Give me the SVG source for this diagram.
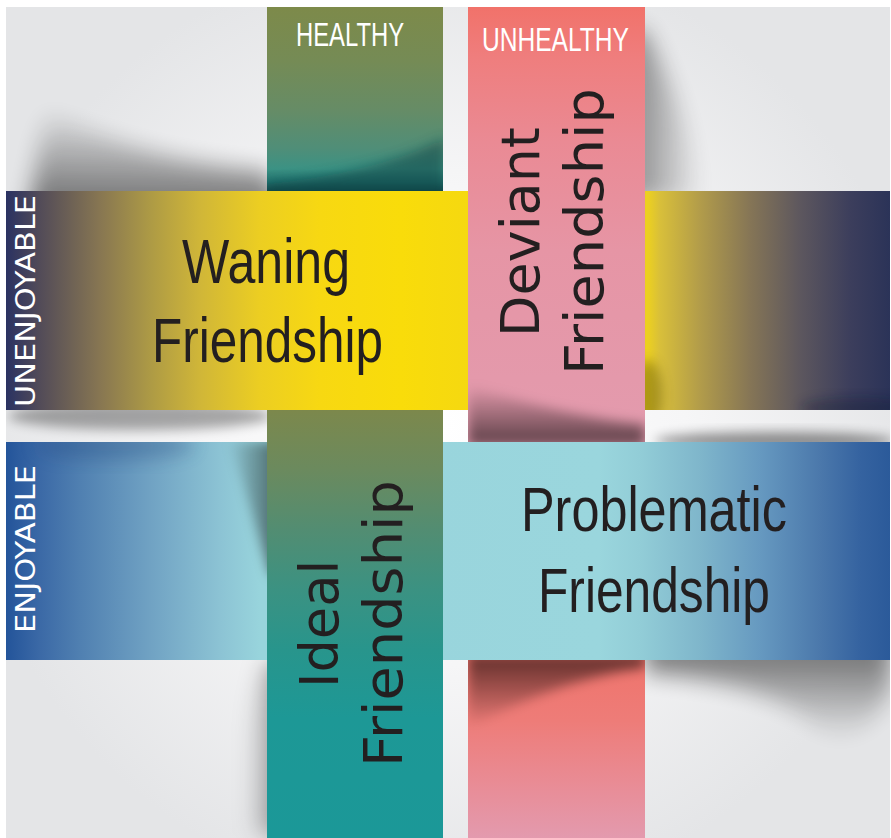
<svg xmlns="http://www.w3.org/2000/svg" width="891" height="838" viewBox="0 0 891 838">
<style>
.lbl{font-family:"Liberation Sans Narrow","Liberation Sans",Arial,sans-serif;fill:#231f20;font-size:63px;}
.vlbl{font-family:"DejaVu Sans","Open Sans",sans-serif;fill:#231f20;font-size:53px;}
.axis{font-family:"Liberation Sans Narrow","Liberation Sans",Arial,sans-serif;fill:#ffffff;font-size:34px;}
.vaxis{font-family:"DejaVu Sans","Open Sans",sans-serif;fill:#ffffff;font-size:27px;}
.sh{filter:url(#blur6);}
.shb{filter:url(#blur11);}
</style>
<defs>
 <filter id="blur6" x="-50%" y="-50%" width="200%" height="200%"><feGaussianBlur stdDeviation="6"/></filter>
 <filter id="blur9" x="-50%" y="-50%" width="200%" height="200%"><feGaussianBlur stdDeviation="9"/></filter>
 <filter id="blur11" x="-50%" y="-50%" width="200%" height="200%"><feGaussianBlur stdDeviation="11"/></filter>
 <radialGradient id="bg" gradientUnits="userSpaceOnUse" cx="445" cy="425" r="480">
  <stop offset="0" stop-color="#ffffff"/>
  <stop offset="0.5" stop-color="#f6f6f7"/>
  <stop offset="1" stop-color="#e4e5e7"/>
 </radialGradient>
 <linearGradient id="yel" gradientUnits="userSpaceOnUse" x1="6" y1="0" x2="890" y2="0">
  <stop offset="0" stop-color="#2a3262"/>
  <stop offset="0.038" stop-color="#524b58"/>
  <stop offset="0.106" stop-color="#877652"/>
  <stop offset="0.163" stop-color="#ad9a45"/>
  <stop offset="0.219" stop-color="#d0b638"/>
  <stop offset="0.287" stop-color="#ecce22"/>
  <stop offset="0.355" stop-color="#f7d812"/>
  <stop offset="0.446" stop-color="#f9dc0a"/>
  <stop offset="0.726" stop-color="#ecd020"/>
  <stop offset="0.740" stop-color="#d8bf3a"/>
  <stop offset="0.785" stop-color="#b29c4a"/>
  <stop offset="0.842" stop-color="#857556"/>
  <stop offset="0.898" stop-color="#5d575e"/>
  <stop offset="0.955" stop-color="#3c3e5c"/>
  <stop offset="1" stop-color="#2b3358"/>
 </linearGradient>
 <linearGradient id="blu" gradientUnits="userSpaceOnUse" x1="6" y1="0" x2="890" y2="0">
  <stop offset="0" stop-color="#23549a"/>
  <stop offset="0.038" stop-color="#3b69a6"/>
  <stop offset="0.084" stop-color="#5080b1"/>
  <stop offset="0.163" stop-color="#70a2c3"/>
  <stop offset="0.242" stop-color="#8cc3d4"/>
  <stop offset="0.287" stop-color="#98d4dc"/>
  <stop offset="0.67" stop-color="#9ad6dd"/>
  <stop offset="0.717" stop-color="#92cdd7"/>
  <stop offset="0.785" stop-color="#7fb6cb"/>
  <stop offset="0.853" stop-color="#6699c0"/>
  <stop offset="0.921" stop-color="#4b78ab"/>
  <stop offset="0.966" stop-color="#3563a0"/>
  <stop offset="1" stop-color="#2b5a9a"/>
 </linearGradient>
 <linearGradient id="grnTop" gradientUnits="userSpaceOnUse" x1="0" y1="7" x2="0" y2="191">
  <stop offset="0" stop-color="#7d8a4a"/>
  <stop offset="0.29" stop-color="#758b55"/>
  <stop offset="0.56" stop-color="#668c66"/>
  <stop offset="0.77" stop-color="#4f8e78"/>
  <stop offset="0.88" stop-color="#3b9284"/>
  <stop offset="0.95" stop-color="#21726e"/>
  <stop offset="1" stop-color="#0f4c4e"/>
 </linearGradient>
 <linearGradient id="grnBot" gradientUnits="userSpaceOnUse" x1="0" y1="410" x2="0" y2="838">
  <stop offset="0" stop-color="#7c884c"/>
  <stop offset="0.14" stop-color="#6b8a5e"/>
  <stop offset="0.28" stop-color="#528d72"/>
  <stop offset="0.42" stop-color="#3b9282"/>
  <stop offset="0.56" stop-color="#28958c"/>
  <stop offset="0.72" stop-color="#1d9896"/>
  <stop offset="1" stop-color="#1b9898"/>
 </linearGradient>
 <linearGradient id="pnkTop" gradientUnits="userSpaceOnUse" x1="0" y1="7" x2="0" y2="442">
  <stop offset="0" stop-color="#f1726a"/>
  <stop offset="0.12" stop-color="#ef7e7e"/>
  <stop offset="0.31" stop-color="#ea8a94"/>
  <stop offset="0.56" stop-color="#e695a5"/>
  <stop offset="1" stop-color="#e39bae"/>
 </linearGradient>
 <linearGradient id="pnkBot" gradientUnits="userSpaceOnUse" x1="0" y1="660" x2="0" y2="838">
  <stop offset="0" stop-color="#ef746c"/>
  <stop offset="0.34" stop-color="#ee7c78"/>
  <stop offset="0.68" stop-color="#e98b94"/>
  <stop offset="1" stop-color="#e39aae"/>
 </linearGradient>
 <linearGradient id="fadeDown" x1="0" y1="0" x2="0" y2="1">
  <stop offset="0" stop-color="#000" stop-opacity="0"/>
  <stop offset="1" stop-color="#000" stop-opacity="0.6"/>
 </linearGradient>
 <linearGradient id="fadeUp" x1="0" y1="0" x2="0" y2="1">
  <stop offset="0" stop-color="#000" stop-opacity="0.6"/>
  <stop offset="1" stop-color="#000" stop-opacity="0"/>
 </linearGradient>
 <linearGradient id="fadeRight" x1="0" y1="0" x2="1" y2="0">
  <stop offset="0" stop-color="#000" stop-opacity="0.55"/>
  <stop offset="1" stop-color="#000" stop-opacity="0"/>
 </linearGradient>
 <linearGradient id="fadeLeft" x1="0" y1="0" x2="1" y2="0">
  <stop offset="0" stop-color="#000" stop-opacity="0"/>
  <stop offset="1" stop-color="#000" stop-opacity="0.55"/>
 </linearGradient>
 <clipPath id="cBg"><rect x="6" y="7" width="884" height="831"/></clipPath>
 <clipPath id="cBlu"><rect x="6" y="442" width="884" height="218"/></clipPath>
 <clipPath id="cGrnTop"><rect x="267" y="7" width="176" height="184"/></clipPath>
 <clipPath id="cYelR"><rect x="645" y="191" width="245" height="219"/></clipPath>
 <clipPath id="cPnkTop"><rect x="468" y="7" width="177" height="435"/></clipPath>
 <clipPath id="cPnkBot"><rect x="468" y="660" width="177" height="178"/></clipPath>
</defs>

<g id="background">
 <rect x="6" y="7" width="884" height="831" fill="url(#bg)"/>
 <g clip-path="url(#cBg)">
  <path class="shb" d="M28,215 L45,108 C100,140 175,164 267,170 L285,215 Z" fill="url(#fadeDown)" opacity="0.95"/>
  <path class="shb" d="M625,30 L645,30 C668,75 692,130 702,200 L625,200 Z" fill="url(#fadeRight)" opacity="0.85"/>
  <ellipse class="sh" cx="140" cy="416" rx="132" ry="14" fill="#000" opacity="0.33"/>
  <ellipse class="sh" cx="775" cy="441" rx="120" ry="9" fill="#000" opacity="0.42"/>
  <path class="shb" d="M645,640 L890,640 L890,690 C870,730 845,752 822,732 C785,695 725,680 645,674 Z" fill="url(#fadeUp)" opacity="0.95"/>
  <path class="shb" d="M267,662 C252,700 242,760 254,835 L290,835 L290,662 Z" fill="url(#fadeLeft)"/>
 </g>
</g>

<g id="band-enjoyable">
 <rect x="6" y="442" width="884" height="218" fill="url(#blu)"/>
 <g clip-path="url(#cBlu)">
  <path class="sh" d="M280,442 L228,442 C245,480 256,530 270,575 L280,575 Z" fill="url(#fadeLeft)"/>
  <ellipse cx="115" cy="446" rx="80" ry="14" fill="#1d3f78" opacity="0.3" filter="url(#blur9)"/>
 </g>
 <text class="vaxis" transform="translate(35,633) rotate(-90)" textLength="168" lengthAdjust="spacingAndGlyphs">ENJOYABLE</text>
</g>

<g id="band-healthy">
 <rect x="267" y="7" width="176" height="184" fill="url(#grnTop)"/>
 <g clip-path="url(#cGrnTop)">
  <path class="sh" d="M267,195 L267,184 C330,178 400,162 445,138 L445,195 Z" fill="#0a3c40" opacity="0.5"/>
 </g>
 <rect x="267" y="410" width="176" height="428" fill="url(#grnBot)"/>
 <text class="axis" x="296" y="46" textLength="108" lengthAdjust="spacingAndGlyphs">HEALTHY</text>
</g>

<g id="band-unenjoyable">
 <rect x="6" y="191" width="884" height="219" fill="url(#yel)"/>
 <g clip-path="url(#cYelR)">
  <ellipse class="sh" cx="648" cy="395" rx="14" ry="35" fill="#3a3000" opacity="0.35"/>
  <ellipse class="sh" cx="860" cy="408" rx="60" ry="10" fill="#101530" opacity="0.35"/>
 </g>
 <text class="vaxis" transform="translate(35,407) rotate(-90)" textLength="212" lengthAdjust="spacingAndGlyphs">UNENJOYABLE</text>
</g>

<g id="band-unhealthy">
 <rect x="468" y="7" width="177" height="435" fill="url(#pnkTop)"/>
 <g clip-path="url(#cPnkTop)">
  <path class="sh" d="M468,445 L468,385 C520,402 590,420 645,424 L645,445 Z" fill="url(#fadeDown)"/>
 </g>
 <rect x="468" y="660" width="177" height="178" fill="url(#pnkBot)"/>
 <g clip-path="url(#cPnkBot)">
  <path class="sh" d="M468,655 L645,655 L645,668 C600,673 540,690 468,728 Z" fill="url(#fadeUp)"/>
 </g>
 <text class="axis" x="482" y="51" textLength="147" lengthAdjust="spacingAndGlyphs">UNHEALTHY</text>
</g>

<g id="node-waning">
 <text class="lbl" x="182" y="283" textLength="168" lengthAdjust="spacingAndGlyphs">Waning</text>
 <text class="lbl" x="152" y="362" textLength="231" lengthAdjust="spacingAndGlyphs">Friendship</text>
</g>
<g id="node-deviant">
 <text class="vlbl" transform="translate(539,337) rotate(-90)" textLength="210" lengthAdjust="spacingAndGlyphs">Deviant</text>
 <text class="vlbl" transform="translate(603,375) rotate(-90)" textLength="287" lengthAdjust="spacingAndGlyphs">Friendship</text>
</g>
<g id="node-ideal">
 <text class="vlbl" transform="translate(338,688) rotate(-90)" textLength="128" lengthAdjust="spacingAndGlyphs">Ideal</text>
 <text class="vlbl" transform="translate(402,767) rotate(-90)" textLength="287" lengthAdjust="spacingAndGlyphs">Friendship</text>
</g>
<g id="node-problematic">
 <text class="lbl" x="521" y="531" textLength="266" lengthAdjust="spacingAndGlyphs">Problematic</text>
 <text class="lbl" x="538" y="612" textLength="232" lengthAdjust="spacingAndGlyphs">Friendship</text>
</g>
<g id="connectors"/>
</svg>
